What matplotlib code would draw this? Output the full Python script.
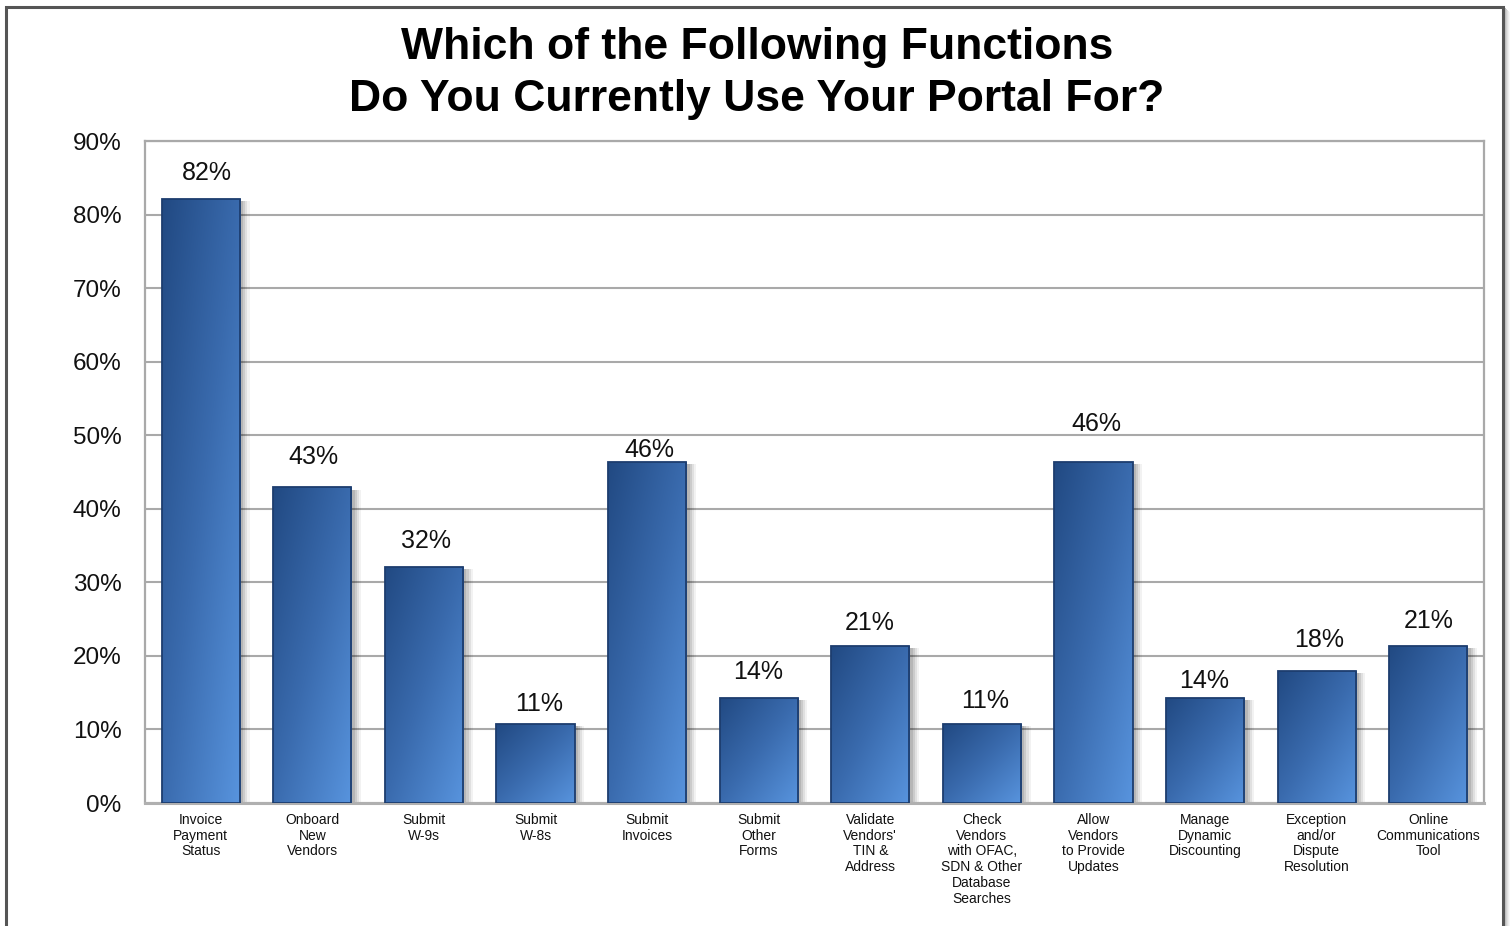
import numpy as np
import matplotlib
matplotlib.use("Agg")
import matplotlib.pyplot as plt
from matplotlib import patheffects as pe
from matplotlib.patches import Rectangle
from matplotlib.colors import LinearSegmentedColormap

# ---- data ----
categories = [
    "Invoice\nPayment\nStatus",
    "Onboard\nNew\nVendors",
    "Submit\nW-9s",
    "Submit\nW-8s",
    "Submit\nInvoices",
    "Submit\nOther\nForms",
    "Validate\nVendors'\nTIN &\nAddress",
    "Check\nVendors\nwith OFAC,\nSDN & Other\nDatabase\nSearches",
    "Allow\nVendors\nto Provide\nUpdates",
    "Manage\nDynamic\nDiscounting",
    "Exception\nand/or\nDispute\nResolution",
    "Online\nCommunications\nTool",
]
values = [82.1, 42.9, 32.1, 10.7, 46.4, 14.3, 21.4, 10.7, 46.4, 14.3, 17.9, 21.4]
value_labels = ["82%", "43%", "32%", "11%", "46%", "14%", "21%", "11%", "46%", "14%", "18%", "21%"]
yticks = [0, 10, 20, 30, 40, 50, 60, 70, 80, 90]
ytick_labels = ["0%", "10%", "20%", "30%", "40%", "50%", "60%", "70%", "80%", "90%"]
title_lines = ["Which of the Following Functions", "Do You Currently Use Your Portal For?"]

# label placement offsets (pixels) - style only
label_dx = [6, 1, 2, 4, 2, -1, -1, 3, 3, -1, 2, 0]
label_dy = [26, 30, 26, 20, 12, 26, 23, 23, 38, 17, 31, 25]

plt.rcParams['font.family'] = ['Liberation Sans', 'DejaVu Sans']

W, H = 1512, 926
fig = plt.figure(figsize=(W / 100, H / 100), dpi=100)
fig.patch.set_facecolor('white')

# outer frame with shadow
for i, a in enumerate([0.25, 0.18, 0.12, 0.07, 0.03]):
    fig.patches.append(Rectangle(((1505 + i) / W, -0.1), 1.2 / W, 1.1 - (8 + i) / H,
                                 transform=fig.transFigure, facecolor='black', alpha=a,
                                 edgecolor='none', zorder=0))
fig.patches.append(Rectangle((5.5 / W, -0.1), (1503 - 5.5) / W, 1.1 - 6.5 / H,
                             transform=fig.transFigure, facecolor='none',
                             edgecolor='#555555', linewidth=2.2, zorder=1))

ax = fig.add_axes([145 / W, 1 - 803 / H, (1484 - 145) / W, (803 - 141) / H])
ax.set_facecolor('none')

x = np.arange(len(values))
ax.set_xlim(-0.5, len(values) - 0.5)
ax.set_ylim(0, 90)

for s in ax.spines.values():
    s.set_color('#a9a9a9')
    s.set_linewidth(1.6)
ax.spines['bottom'].set_color('#b0b0b0')
ax.spines['bottom'].set_linewidth(2.2)

ax.set_yticks(yticks)
ax.set_yticklabels(ytick_labels, fontsize=17.5)
ax.tick_params(axis='y', length=0, pad=17, labelcolor='#111111')
ax.set_xticks(x)
ax.set_xticklabels(categories, fontsize=10, linespacing=1.17)
ax.tick_params(axis='x', length=0, pad=7, labelcolor='#111111')
ax.yaxis.grid(True, color='#a9a9a9', linewidth=1.5)
ax.set_axisbelow(True)

bw = 0.70
shadow_fx = [pe.SimplePatchShadow(offset=(o, -1.5), shadow_rgbFace='black', alpha=al)
             for o, al in [(7, 0.05), (5.5, 0.07), (4, 0.09), (2.5, 0.1)]]
base = ax.bar(x, values, width=bw, color='#3d6fb1', edgecolor='none', zorder=2,
              path_effects=shadow_fx + [pe.Normal()])

cmap = LinearSegmentedColormap.from_list('bar', ['#214982', '#3a6bae', '#5894de'])
n = 200
u = np.linspace(0, 1, n)[None, :]
v = np.linspace(0, 1, n)[:, None]
grad = 0.5 * u + 0.5 * v  # row 0 = top: top-left dark -> bottom-right light
for rect in base:
    x0, w, h = rect.get_x(), rect.get_width(), rect.get_height()
    im = ax.imshow(grad, cmap=cmap, extent=(x0, x0 + w, 0, h), aspect='auto',
                   origin='upper', zorder=3, interpolation='bilinear', vmin=0, vmax=1)
    im.set_clip_path(rect)
ax.set_xlim(-0.5, len(values) - 0.5)
ax.set_ylim(0, 90)
ax.bar(x, values, width=bw, facecolor='none', edgecolor='#1d3d6e', linewidth=1.3, zorder=4)

for xi, val, lab, dx, dy in zip(x, values, value_labels, label_dx, label_dy):
    ax.annotate(lab, (xi, val), xytext=(dx * 0.72, dy * 0.72), textcoords='offset points',
                ha='center', va='center', fontsize=18, color='#111111', zorder=5)

fig.text(757 / W, 1 - 48 / H, title_lines[0], ha='center', va='center',
         fontsize=32, fontweight='bold', color='black')
fig.text(757 / W, 1 - 99 / H, title_lines[1], ha='center', va='center',
         fontsize=32, fontweight='bold', color='black')

fig.savefig('out.png', dpi=100)
